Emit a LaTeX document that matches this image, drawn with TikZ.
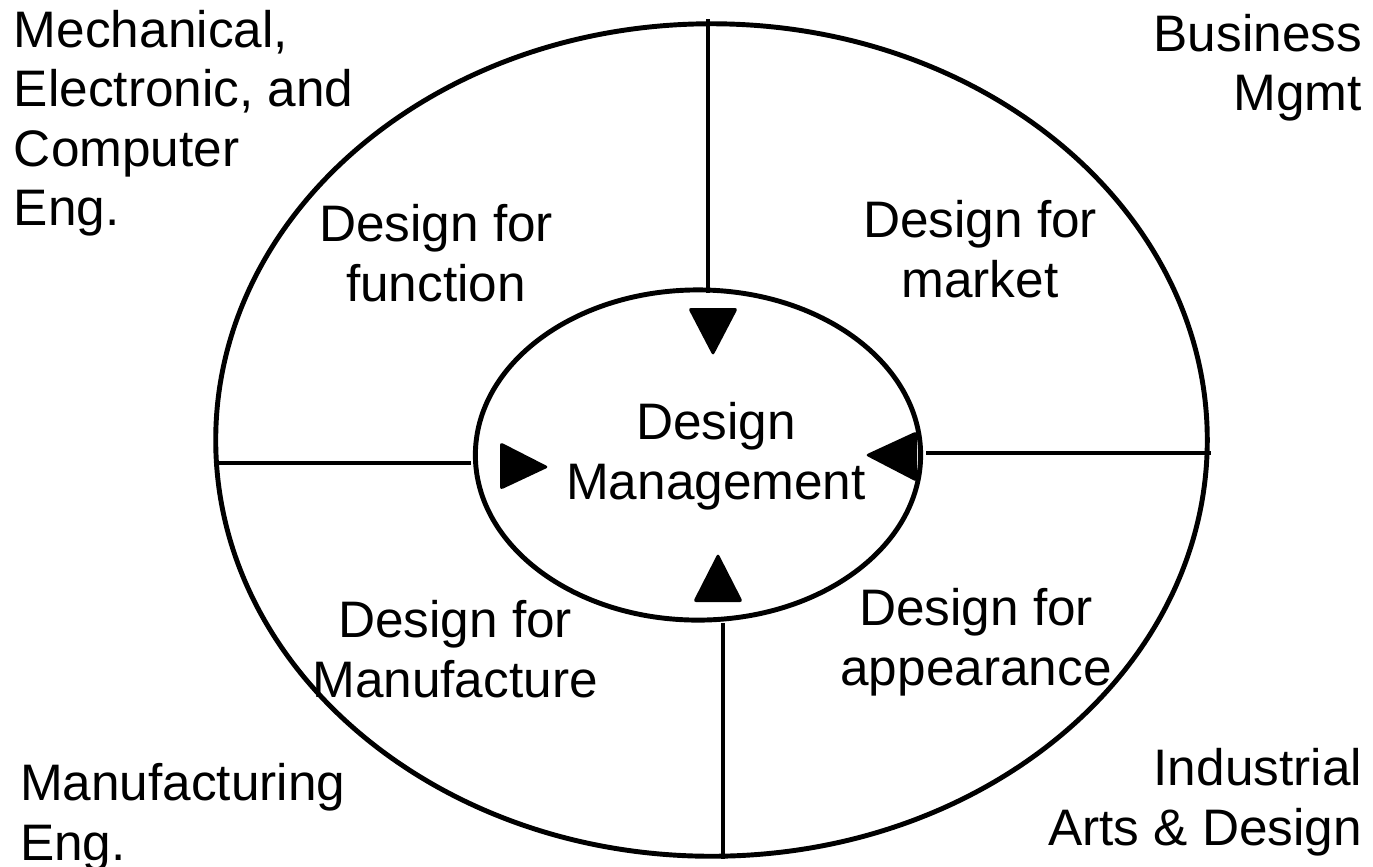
\documentclass[tikz,border=0pt]{standalone}
\usepackage{fontspec}
\setmainfont{Liberation Sans}
\usetikzlibrary{shapes.geometric}
\begin{document}
\begin{tikzpicture}[x=0.01cm,y=-0.01cm,
  every node/.style={inner sep=0pt, outer sep=0pt},
  lbl/.style={font=\fontsize{14.6}{16.9}\selectfont, align=center},
  lblL/.style={font=\fontsize{14.6}{16.9}\selectfont, align=left},
  lblR/.style={font=\fontsize{14.6}{16.9}\selectfont, align=right},
  ring/.style={ellipse, draw, line width=1.4pt},
  divider/.style={line width=1.4pt},
  tri/.style={fill=black, rounded corners=0.03cm}]
\useasboundingbox (0,0) rectangle (1373,866);
\fill[white] (0,0) rectangle (1373,866);

% ellipses
\node[ring, minimum width=9.91cm, minimum height=8.32cm] (outer) at (711.5,440) {};
\node[ring, minimum width=4.45cm, minimum height=3.30cm] (inner) at (698,455) {};

% divider end points
\coordinate (t1) at (708,19);  \coordinate (t2) at (708,293);
\coordinate (l1) at (216,463); \coordinate (l2) at (471,463);
\coordinate (r1) at (926,453); \coordinate (r2) at (1211,453);
\coordinate (b1) at (723,623); \coordinate (b2) at (723,859);
\draw[divider] (t1) -- (t2);
\draw[divider] (l1) -- (l2);
\draw[divider] (r1) -- (r2);
\draw[divider] (b1) -- (b2);

% arrow heads
\fill[tri] (688,308) -- (738,308) -- (713,356) -- cycle;
\fill[tri] (500,442) -- (500,490) -- (549,467) -- cycle;
\fill[tri] (917,431) -- (917,482) -- (865,455) -- cycle;
\fill[tri] (693,602) -- (743,602) -- (718,553) -- cycle;

% labels
\node[lbl] (dm) at (716,456) {Design\\Management};
\node[lbl] (dfun) at (436,253) {Design for\\function};
\node[lbl] (dmar) at (980,249) {Design for\\market};
\node[lbl] (dman) at (455,649) {Design for\\Manufacture};
\node[lbl] (dapp) at (976,642) {Design for\\appearance};

\node[lblL, anchor=west] (mece) at (14,123) {Mechanical,\\Electronic, and\\Computer\\Eng.};
\node[lblR, anchor=east] (bus) at (1362,68) {Business\\Mgmt};
\node[lblL, anchor=west] (mfg) at (20,817) {Manufacturing\\Eng.};
\node[lblR, anchor=east] (ind) at (1362,802) {Industrial\\Arts \& Design};
\end{tikzpicture}
\end{document}
